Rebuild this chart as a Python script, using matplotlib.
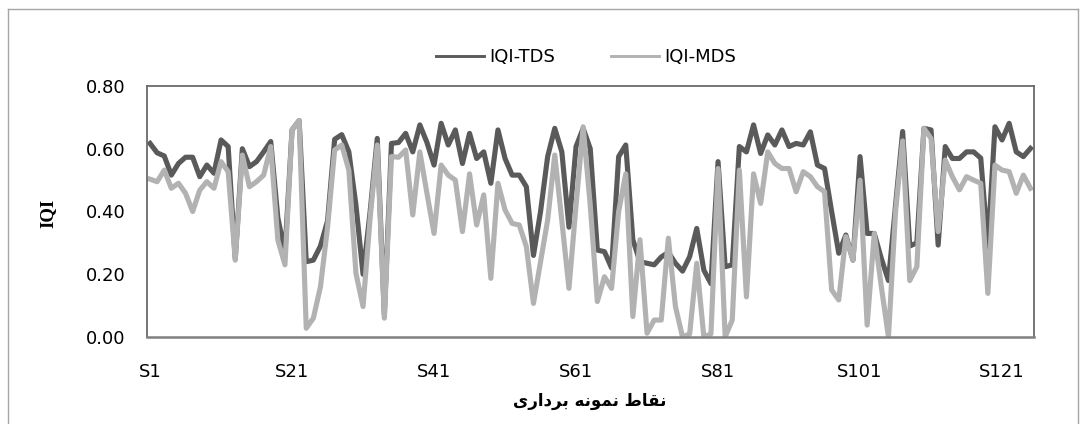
import matplotlib
matplotlib.use('Agg')
from matplotlib import pyplot as plt
from matplotlib.lines import Line2D

# sample points S1..S125
samples = ['S%d' % (i + 1) for i in range(125)]

iqi_tds = [0.617, 0.587, 0.577, 0.516, 0.553, 0.573, 0.573, 0.511, 0.548, 0.522,
           0.628, 0.607, 0.250, 0.600, 0.543, 0.559, 0.590, 0.623, 0.380, 0.270,
           0.660, 0.690, 0.240, 0.245, 0.290, 0.370, 0.630, 0.645, 0.590, 0.420,
           0.200, 0.400, 0.633, 0.070, 0.617, 0.620, 0.649, 0.590, 0.676, 0.620,
           0.548, 0.681, 0.612, 0.660, 0.553, 0.649, 0.569, 0.590, 0.490, 0.660,
           0.569, 0.516, 0.516, 0.479, 0.260, 0.400, 0.575, 0.665, 0.590, 0.350,
           0.607, 0.665, 0.600, 0.277, 0.272, 0.220, 0.575, 0.612, 0.310, 0.240,
           0.235, 0.230, 0.255, 0.270, 0.235, 0.210, 0.256, 0.346, 0.213, 0.170,
           0.559, 0.224, 0.230, 0.607, 0.590, 0.676, 0.585, 0.644, 0.612, 0.660,
           0.607, 0.617, 0.612, 0.654, 0.548, 0.537, 0.400, 0.267, 0.325, 0.245,
           0.575, 0.330, 0.330, 0.250, 0.180, 0.420, 0.655, 0.290, 0.300, 0.665,
           0.660, 0.293, 0.607, 0.569, 0.569, 0.590, 0.590, 0.570, 0.288, 0.670,
           0.628, 0.681, 0.590, 0.575, 0.601]

iqi_mds = [0.503, 0.495, 0.532, 0.474, 0.490, 0.458, 0.400, 0.468, 0.495, 0.474,
           0.559, 0.527, 0.245, 0.580, 0.479, 0.495, 0.516, 0.607, 0.309, 0.230,
           0.660, 0.690, 0.028, 0.060, 0.160, 0.350, 0.596, 0.612, 0.532, 0.203,
           0.097, 0.380, 0.612, 0.060, 0.575, 0.573, 0.596, 0.389, 0.590, 0.458,
           0.330, 0.548, 0.516, 0.500, 0.336, 0.520, 0.357, 0.453, 0.187, 0.490,
           0.405, 0.362, 0.357, 0.288, 0.107, 0.240, 0.373, 0.580, 0.370, 0.155,
           0.420, 0.670, 0.420, 0.113, 0.192, 0.155, 0.400, 0.520, 0.065, 0.310,
           0.012, 0.054, 0.054, 0.315, 0.097, 0.000, 0.010, 0.235, 0.000, 0.010,
           0.537, 0.000, 0.054, 0.532, 0.128, 0.520, 0.426, 0.590, 0.553, 0.537,
           0.537, 0.463, 0.527, 0.511, 0.479, 0.463, 0.150, 0.118, 0.320, 0.245,
           0.500, 0.038, 0.330, 0.160, 0.000, 0.400, 0.625, 0.180, 0.224, 0.665,
           0.633, 0.336, 0.564, 0.511, 0.469, 0.511, 0.500, 0.490, 0.139, 0.548,
           0.532, 0.527, 0.458, 0.516, 0.474]

yticks = [0.0, 0.2, 0.4, 0.6, 0.8]
xtick_pos = [0, 20, 40, 60, 80, 100, 120]

# x title in Persian, written with presentation forms in visual order
xtitle = '\uFEEF\uFEAD\uFE8D\uFEA9\uFEAE\uFE91 \uFEEA\uFEE7\uFEEE\uFEE4\uFEE7 \uFEC1\uFE8E\uFED8\uFEE7'

W, H = 1086, 424
fig = plt.figure(figsize=(W / 100, H / 100), dpi=100)
ax = fig.add_axes([146.5 / W, 1 - 337 / H, (1034 - 146.5) / W, (337 - 86) / H])

x = list(range(len(samples)))
ax.plot(x, iqi_tds, color='#5a5a5a', lw=3.7, solid_joinstyle='round', label='IQI-TDS')
ax.plot(x, iqi_mds, color='#b2b2b2', lw=3.7, solid_joinstyle='round', label='IQI-MDS')

ax.set_xlim(-0.5, len(samples) - 0.5)
ax.set_ylim(0, 0.8)
ax.set_yticks(yticks)
ax.set_yticklabels(['%.2f' % v for v in yticks])
ax.set_xticks(xtick_pos)
ax.set_xticklabels([samples[i] for i in xtick_pos])
ax.tick_params(axis='both', length=0, labelsize=13, colors='#000000')
ax.tick_params(axis='x', pad=19)
ax.tick_params(axis='y', pad=15)
for s in ax.spines.values():
    s.set_color('#6a6a6a')
    s.set_linewidth(1.3)
ax.spines['bottom'].set_color('#808080')
ax.spines['bottom'].set_linewidth(1.8)

fig.text(48 / W, 1 - 213 / H, 'IQI', rotation=90, ha='center', va='center',
         family='Liberation Serif', fontweight='bold', fontsize=13.5)
fig.text(590 / W, 1 - 401 / H, xtitle, ha='center', va='center',
         family='DejaVu Sans', fontweight='bold', fontsize=12)

leg = fig.legend(handles=[Line2D([], [], color='#5a5a5a', lw=2.1),
                          Line2D([], [], color='#b2b2b2', lw=2.1)],
                 labels=['IQI-TDS', 'IQI-MDS'], loc='center',
                 bbox_to_anchor=(586 / W, 1 - 57 / H), ncol=2, frameon=False,
                 fontsize=13, handlelength=2.67, handletextpad=0.3, columnspacing=3.1)

# chart area border
bc = '#a6a6a6'
fig.add_artist(Line2D([7.5 / W, 7.5 / W], [0, 1 - 8.5 / H], color=bc, lw=1, transform=fig.transFigure))
fig.add_artist(Line2D([7.5 / W, 1077.5 / W], [1 - 8.5 / H, 1 - 8.5 / H], color=bc, lw=1, transform=fig.transFigure))
fig.add_artist(Line2D([1077.5 / W, 1077.5 / W], [0, 1 - 8.5 / H], color=bc, lw=1, transform=fig.transFigure))

fig.savefig('out.png', dpi=100)
